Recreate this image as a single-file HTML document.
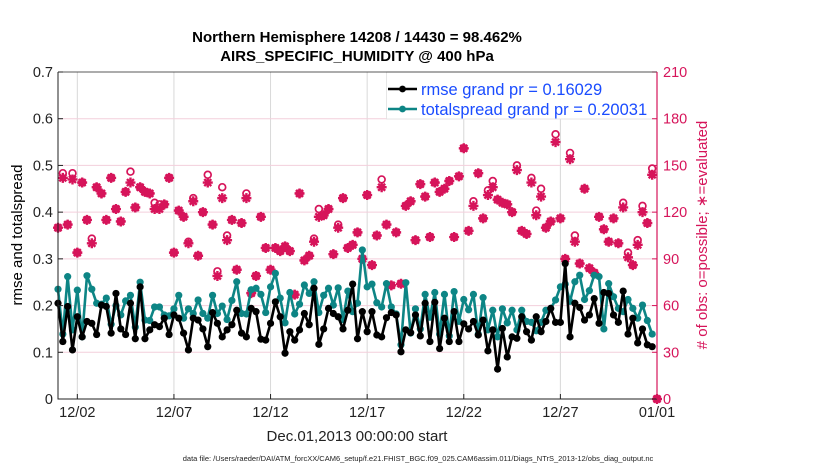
<!DOCTYPE html>
<html><head><meta charset="utf-8"><style>
html,body{margin:0;padding:0;background:#fff;}
svg{display:block;font-family:"Liberation Sans",Arial,sans-serif;}
</style></head><body>
<svg id="chart" width="830" height="470" viewBox="0 0 830 470" xmlns="http://www.w3.org/2000/svg">
<text x="357" y="42" text-anchor="middle" font-size="15" font-weight="bold">Northern Hemisphere 14208 / 14430 = 98.462%</text>
<text x="357" y="61" text-anchor="middle" font-size="15" font-weight="bold">AIRS_SPECIFIC_HUMIDITY @ 400 hPa</text>
<g id="grid"></g>
<g id="obs"></g>
<g id="lines"></g>
<g id="legend"></g>
<g id="axes"></g>
<text transform="translate(22,235) rotate(-90)" text-anchor="middle" font-size="15">rmse and totalspread</text>
<text transform="translate(707,235) rotate(-90)" text-anchor="middle" font-size="15" fill="#d6145a"># of obs: o=possible; ∗=evaluated</text>
<text x="357" y="441" text-anchor="middle" font-size="15" fill="#222">Dec.01,2013 00:00:00 start</text>
<text x="418" y="461" text-anchor="middle" font-size="7.5" fill="#222">data file: /Users/raeder/DAI/ATM_forcXX/CAM6_setup/f.e21.FHIST_BGC.f09_025.CAM6assim.011/Diags_NTrS_2013-12/obs_diag_output.nc</text>
</svg>
<script>
const rmse=[.205,.123,.198,.105,.176,.133,.166,.162,.138,.201,.198,.141,.226,.15,.138,.205,.129,.24,.129,.148,.159,.155,.173,.138,.18,.173,.141,.105,.173,.169,.15,.112,
.185,.162,.133,.148,.159,.19,.141,.133,.194,.187,.128,.126,.162,.208,.176,.098,.144,.126,.148,.183,.159,.237,.117,.15,.194,.183,.176,.15,.19,.246,.129,
.187,.144,.187,.137,.133,.174,.185,.18,.101,.148,.142,.18,.135,.205,.123,.207,.108,.173,.123,.187,.123,.161,.15,.166,.137,.169,.103,.148,.064,.151,.09,
.133,.13,.176,.144,.126,.176,.144,.166,.194,.164,.164,.29,.133,.205,.196,.169,.18,.215,.162,.228,.226,.18,.164,.231,.139,.173,.12,.15,.116,.112];
const spread=[.235,.139,.262,.148,.233,.133,.264,.235,.205,.203,.216,.16,.2,.18,.21,.222,.154,.25,.169,.168,.197,.197,.18,.178,.193,.222,.173,.193,.183,.212,.183,.173,
.222,.183,.199,.17,.211,.251,.183,.182,.234,.237,.224,.185,.24,.269,.216,.163,.228,.182,.203,.244,.226,.251,.185,.222,.237,.201,.238,.17,.231,.187,.205,
.319,.24,.246,.206,.197,.247,.197,.182,.116,.249,.141,.193,.15,.224,.175,.228,.139,.224,.135,.23,.166,.213,.191,.224,.139,.217,.148,.19,.133,.193,.163,
.19,.148,.19,.166,.164,.146,.164,.19,.194,.212,.24,.246,.209,.251,.265,.213,.232,.265,.262,.15,.247,.219,.194,.187,.213,.194,.173,.201,.168,.139];
const evaluated=[110,142,112,141,94,139,115,100,136,132,115,142,122,114,133,139,123,136,133,132,122,122,125,142,94,121,117,100,127,92,120,139,
112,79,129,102,115,83,113,129,68,79,117,97,83,97,95,98,95,67,132,89,92,101,117,118,122,93,110,129,97,99,107,
90,131,86,105,136,112,73,107,74,124,127,102,138,130,104,139,133,135,140,104,143,161,108,124,145,116,131,136,128,126,125,
120,147,108,106,139,118,130,110,114,165,116,90,154,101,87,135,84,81,117,109,101,116,100,123,91,86,99,120,113,144,0];
const possible=[110,145,112,145,94,139,115,103,136,132,115,142,122,114,133,146,123,136,133,132,126,125,125,142,94,121,117,101,129,92,120,144,
112,82,136,105,115,83,113,132,68,79,117,97,83,97,95,98,95,67,132,89,92,103,122,118,122,93,112,129,97,99,107,
90,131,86,105,141,112,73,107,74,124,127,102,138,130,104,139,133,135,140,104,143,161,108,127,145,116,134,140,128,126,125,
120,150,108,106,142,121,135,110,114,170,116,90,158,105,87,135,84,81,117,109,101,116,100,126,94,86,102,124,113,148,0];
const xTickDays=[1,6,11,16,21,26,31];
const xTickLabels=["12/02","12/07","12/12","12/17","12/22","12/27","01/01"];
const yTicks=[0,0.1,0.2,0.3,0.4,0.5,0.6,0.7];
const y2Ticks=[0,30,60,90,120,150,180,210];

const X0=58,X1=657,Y0=399,Y1=72;
const x=d=>X0+(d/31)*(X1-X0);
const y=v=>Y0-(v/0.7)*(Y0-Y1);
const y2=c=>Y0-(c/210)*(Y0-Y1);
const NS="http://www.w3.org/2000/svg";
function mk(tag,attrs,parent){const e=document.createElementNS(NS,tag);for(const k in attrs)e.setAttribute(k,attrs[k]);parent.appendChild(e);return e;}
const grid=document.getElementById('grid'),axes=document.getElementById('axes'),lines=document.getElementById('lines'),obs=document.getElementById('obs'),legend=document.getElementById('legend');
const RED="#d6145a";
xTickDays.forEach((d,i)=>{
  const g=mk('line',{x1:x(d),x2:x(d),y1:Y1,y2:Y0,stroke:'#d8d8d8','stroke-width':1},grid);
  
  
  const t=mk('line',{x1:x(d),x2:x(d),y1:Y0,y2:Y0-5,stroke:'#222','stroke-width':1},axes);
  
  
  const l=mk('text',{x:x(d),y:417,'text-anchor':'middle','font-size':14.5,fill:'#222'},axes);
  l.textContent=xTickLabels[i];
  
  
});
y2Ticks.forEach(c=>{
  if(c>0&&c<210){const g=mk('line',{x1:X0,x2:X1,y1:y2(c),y2:y2(c),stroke:'#f3cfdc','stroke-width':1},grid);
  
  }
  const t=mk('line',{x1:X1,x2:X1-5,y1:y2(c),y2:y2(c),stroke:RED},axes);
  
  
  const l=mk('text',{x:X1+6,y:y2(c)+5,'font-size':14.5,fill:RED},axes);
  l.textContent=c;
  
  
});
yTicks.forEach(v=>{
  const t=mk('line',{x1:X0,x2:X0+5,y1:y(v),y2:y(v),stroke:'#222'},axes);
  
  
  const l=mk('text',{x:X0-5,y:y(v)+5,'text-anchor':'end','font-size':14.5,fill:'#222'},axes);
  l.textContent=v===0?'0':v.toFixed(1);
  
  
});
const ax1=mk('path',{d:`M${X0},${Y1}V${Y0}H${X1}`,fill:'none',stroke:'#222','stroke-width':1},axes);


const axTop=mk('line',{x1:X0,x2:X1,y1:Y1,y2:Y1,stroke:'#222','stroke-width':0.8},axes);


const ax2=mk('line',{x1:X1,x2:X1,y1:Y1,y2:Y0,stroke:RED,'stroke-width':1.2},axes);



function star(cx,cy,r,parent){
  return mk('path',{d:`M${cx-r},${cy}H${cx+r}M${cx},${cy-r}V${cy+r}M${cx-r*.7},${cy-r*.7}L${cx+r*.7},${cy+r*.7}M${cx-r*.7},${cy+r*.7}L${cx+r*.7},${cy-r*.7}`,stroke:RED,'stroke-width':2.4,fill:'none'},parent);
}
possible.forEach((c,i)=>{
  const o=mk('circle',{cx:x(i*0.25),cy:y2(c),r:3.4,fill:'none',stroke:RED,'stroke-width':1.7},obs);
  
  
});
evaluated.forEach((c,i)=>{
  const cx=x(i*0.25);
  const s=star(cx,y2(c),5,obs);
  
  
  const f=mk('circle',{cx:cx,cy:y2(c),r:2.8,fill:RED},obs);
  
  
});
function series(vals,color,name){
  const pl=mk('polyline',{points:vals.map((v,i)=>x(i*0.25)+','+y(v)).join(' '),fill:'none',stroke:color,'stroke-width':2.6,'stroke-linejoin':'round'},lines);
  
  
  vals.forEach((v,i)=>{
    const c=mk('circle',{cx:x(i*0.25),cy:y(v),r:3.6,fill:color},lines);
    
    
  });
}
series(spread,'#0d8585','totalspread');
series(rmse,'#000000','rmse');

const lb=mk('rect',{x:386.5,y:Y1,width:X1-386.5,height:47,fill:'#fff',stroke:'#e0e0e0','stroke-width':0.8},legend);


[['rmse grand pr = 0.16029','#000000',89,'legend-entry-rmse'],['totalspread grand pr = 0.20031','#0d8585',109,'legend-entry-totalspread']].forEach(e=>{
  const l=mk('line',{x1:388,x2:417,y1:e[2],y2:e[2],stroke:e[1],'stroke-width':2.6},legend);
  
  
  const c=mk('circle',{cx:402.5,cy:e[2],r:3.4,fill:e[1]},legend);
  
  
  const t=mk('text',{x:421,y:e[2]+6,'font-size':16.5,fill:'#1a4cff'},legend);
  t.textContent=e[0];
  
  
});
</script>
</body></html>
